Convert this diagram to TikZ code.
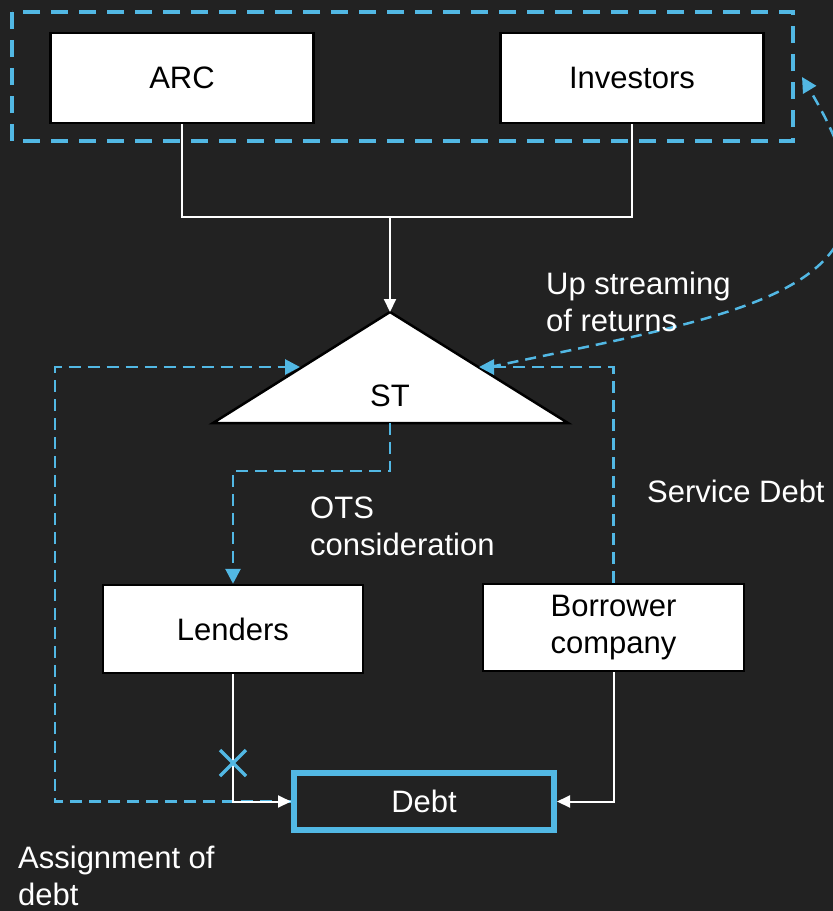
\documentclass[tikz,border=0pt]{standalone}
\usepackage{fontspec}
\setmainfont{Liberation Sans}
\usetikzlibrary{arrows.meta}
\definecolor{bgc}{RGB}{34,34,34}
\definecolor{skyb}{RGB}{82,184,228}
\tikzset{
  boxw/.style={draw=black, line width=2.5pt, fill=white, text=black, minimum width=#1, minimum height=88pt, inner sep=0pt, align=center, font=\fontsize{31}{37}\selectfont},
  lbl/.style={text=white, align=left, inner sep=0pt, font=\fontsize{31}{37}\selectfont},
  wline/.style={draw=white, line width=2pt},
  wtip/.style={-{Triangle[length=13pt,width=12pt]}, shorten >=0pt},
  bdash/.style={draw=skyb, line width=2.8pt, dash pattern=on 12pt off 7pt},
  btip/.style={-{Triangle[length=15pt,width=15pt]}},
}
\begin{document}
\begin{tikzpicture}[x=1pt,y=-1pt]
\clip (0,0) rectangle (833,911);
\fill[bgc] (0,0) rectangle (833,911);
% outer dashed frame
\draw[skyb, line width=4pt, dash pattern=on 17pt off 11pt] (12,12) rectangle (793,141);
% top boxes
\node[boxw=263pt, minimum height=90pt] (arc) at (182,78) {ARC};
\node[boxw=263pt, minimum height=90pt] (inv) at (632,78) {Investors};
% triangle
\coordinate (apex) at (390,312);
\coordinate (stbase) at (390,423);
\filldraw[fill=white, draw=black, line width=2.5pt, line join=miter] (apex) -- (568,423) -- (213,423) -- cycle;
\node[text=black, font=\fontsize{31}{37}\selectfont, inner sep=0pt] (st) at (390,396) {ST};
% lower boxes
\node[boxw=260pt] (lend) at (233,629) {Lenders};
\node[boxw=261pt, minimum height=87pt] (borr) at (613.5,627.5) {Borrower\\company};
\node[draw=skyb, line width=6pt, minimum width=260pt, minimum height=57pt, inner sep=0pt, text=white, font=\fontsize{31}{37}\selectfont] (debt) at (424,801.5) {Debt};
% joints
\coordinate (joint) at (390,217);
\coordinate (stL) at (300,367);
\coordinate (stR) at (479,367);
\coordinate (upstart) at (490,367);
\coordinate (upend) at (802,77);
% white connectors
\draw[wline] (arc.south) |- (joint) -| (inv.south);
\draw[wline, wtip] (joint) -- (apex);
% blue dashed connectors
\draw[bdash, btip] (stbase) -- (390,471) -| (lend.north);
\draw[bdash, btip] (borr.north) |- (stR);
\draw[bdash, btip] (debt.west) -| (55,367) -- (stL);
\draw[skyb, line width=2.5pt, dash pattern=on 11pt off 7pt, btip] (upstart) .. controls (760,310) and (930,290) .. (upend);
% white arrows into debt
\draw[wline, wtip] (lend.south) |- (debt.west);
\draw[wline, wtip] (borr.south) |- (debt.east);
% cross mark
\node[text=skyb, inner sep=0pt] (xmark) at (233,763) {\tikz[x=1pt,y=-1pt]\draw[skyb, line width=3.5pt] (-13,-13) -- (13,13) (-13,13) -- (13,-13);};
% labels
\node[lbl, anchor=north west] (ups) at (546,272) {Up streaming\\of returns};
\node[lbl, anchor=north west] (ots) at (310,497) {OTS\\consideration};
\node[lbl, anchor=north west] (svc) at (647,480) {Service Debt};
\node[lbl, anchor=north west] (asg) at (18,846) {Assignment of\\debt};
\end{tikzpicture}
\end{document}
